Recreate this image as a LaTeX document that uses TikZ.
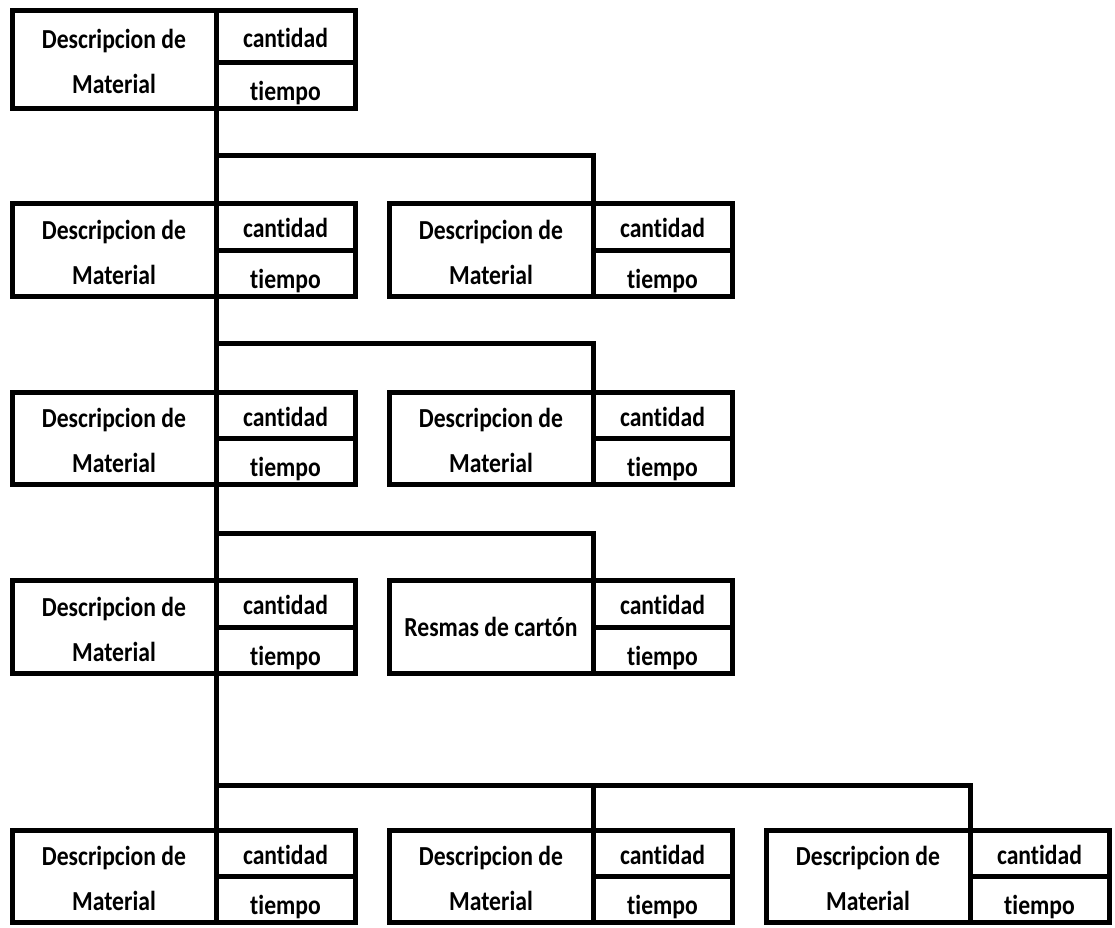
\documentclass[tikz,border=0pt]{standalone}
\usepackage{fontspec}
\setmainfont{Carlito}[Ligatures=NoCommon, FakeStretch=0.86]
\usetikzlibrary{positioning}

\begin{document}
\begin{tikzpicture}
		[x=1pt, y=-1pt,
		box/.style ={rectangle, draw=black, line width=5pt, inner sep=0pt, outer sep=0pt, align=center, font=\fontsize{27.5}{45}\selectfont\bfseries},
		desc/.style = {box, anchor=north west, minimum width=204pt, text height=69pt, text depth=0pt},
		cell/.style = {box, anchor=north west, minimum width=139pt, text height=22pt, text depth=0pt},
		tcell/.style = {cell, text height=30pt},
		line/.style ={draw, line width=5pt},
		]
		\useasboundingbox (0,0) rectangle (1115,927);

		% row 1
		\node[desc, minimum height=98pt] (D1) at (12,10) {Descripcion de\\Material};
		\node[cell, minimum height=52pt] (C1) at (D1.north east) {cantidad};
		\node[tcell, minimum height=46pt] (T1) at (C1.south west) {tiempo};

		% row 2
		\node[desc, minimum height=93pt] (D2) at (12,203) {Descripcion de\\Material};
		\node[cell, minimum height=47pt] (C2) at (D2.north east) {cantidad};
		\node[tcell, minimum height=46pt] (T2) at (C2.south west) {tiempo};
		\node[desc, minimum height=93pt] (D2b) at (389,203) {Descripcion de\\Material};
		\node[cell, minimum height=47pt] (C2b) at (D2b.north east) {cantidad};
		\node[tcell, minimum height=46pt] (T2b) at (C2b.south west) {tiempo};

		% row 3
		\node[desc, minimum height=92pt] (D3) at (12,392) {Descripcion de\\Material};
		\node[cell, minimum height=46pt] (C3) at (D3.north east) {cantidad};
		\node[tcell, minimum height=46pt] (T3) at (C3.south west) {tiempo};
		\node[desc, minimum height=92pt] (D3b) at (389,392) {Descripcion de\\Material};
		\node[cell, minimum height=46pt] (C3b) at (D3b.north east) {cantidad};
		\node[tcell, minimum height=46pt] (T3b) at (C3b.south west) {tiempo};

		% row 4
		\node[desc, minimum height=93pt] (D4) at (12,580) {Descripcion de\\Material};
		\node[cell, minimum height=47pt] (C4) at (D4.north east) {cantidad};
		\node[tcell, minimum height=46pt] (T4) at (C4.south west) {tiempo};
		\node[desc, minimum height=93pt, text height=20pt] (D4b) at (389,580) {Resmas de cartón};
		\node[cell, minimum height=47pt] (C4b) at (D4b.north east) {cantidad};
		\node[tcell, minimum height=46pt] (T4b) at (C4b.south west) {tiempo};

		% row 5
		\node[desc, minimum height=92pt] (D5) at (12,830) {Descripcion de\\Material};
		\node[cell, minimum height=46pt] (C5) at (D5.north east) {cantidad};
		\node[tcell, minimum height=46pt] (T5) at (C5.south west) {tiempo};
		\node[desc, minimum height=92pt] (D5b) at (389,830) {Descripcion de\\Material};
		\node[cell, minimum height=46pt] (C5b) at (D5b.north east) {cantidad};
		\node[tcell, minimum height=46pt] (T5b) at (C5b.south west) {tiempo};
		\node[desc, minimum height=92pt] (D5c) at (766,830) {Descripcion de\\Material};
		\node[cell, minimum height=46pt] (C5c) at (D5c.north east) {cantidad};
		\node[tcell, minimum height=46pt] (T5c) at (C5c.south west) {tiempo};

		% branch points
		\path (D1.south east) ++(0,47) coordinate (J1);
		\path (D2.south east) ++(0,47) coordinate (J2);
		\path (D3.south east) ++(0,49) coordinate (J3);
		\path (D4.south east) ++(0,112) coordinate (J4);

		\path[line]
		(D1.south east) -- (D2.north east)
		(D2.south east) -- (D3.north east)
		(D3.south east) -- (D4.north east)
		(D4.south east) -- (D5.north east)
		(J1) -| (D2b.north east)
		(J2) -| (D3b.north east)
		(J3) -| (D4b.north east)
		(J4) -| (D5b.north east)
		(J4) -| (D5c.north east);

	\end{tikzpicture}
\end{document}
